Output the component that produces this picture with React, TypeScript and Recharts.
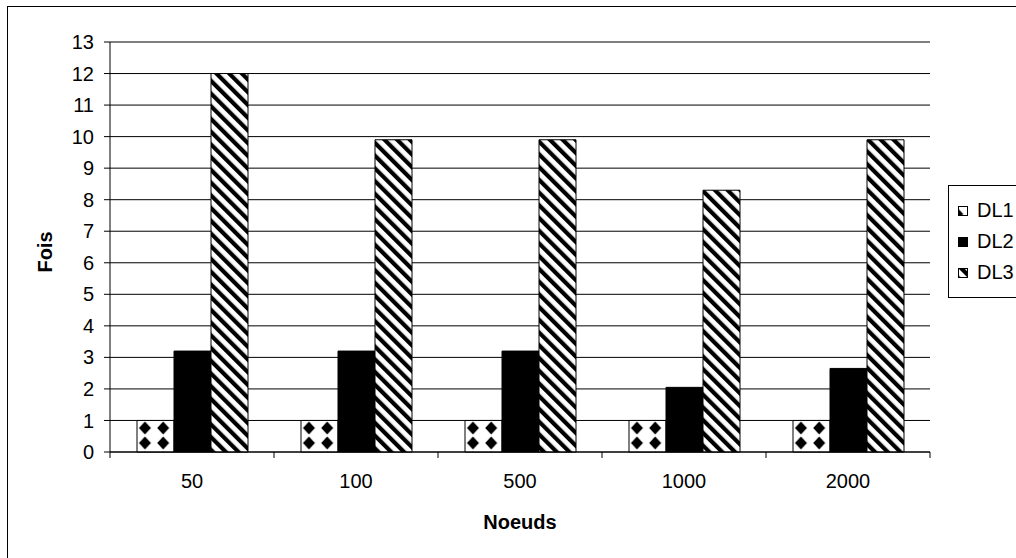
import React from "react";
import {
  BarChart,
  Bar,
  XAxis,
  YAxis,
  CartesianGrid,
  Legend,
  Label,
} from "recharts";

const categories = ["50", "100", "500", "1000", "2000"];
const dl1 = [1, 1, 1, 1, 1];
const dl2 = [3.2, 3.2, 3.2, 2.05, 2.65];
const dl3 = [12, 9.9, 9.9, 8.3, 9.9];
const seriesNames = ["DL1", "DL2", "DL3"];
const yTicks = [0, 1, 2, 3, 4, 5, 6, 7, 8, 9, 10, 11, 12, 13];

const data = categories.map((c, i) => ({
  name: c,
  DL1: dl1[i],
  DL2: dl2[i],
  DL3: dl3[i],
}));

const FONT = '"Liberation Sans", Arial, sans-serif';
const PLOT_LEFT = 110;
const PLOT_RIGHT = 930;
const BAND = (PLOT_RIGHT - PLOT_LEFT) / categories.length;
// diamond tile: 9 tiles per category so every bar gets the same pattern
const TILE_W = BAND / 9;

const fills: Record<string, string> = {
  DL1: "url(#diamonds)",
  DL2: "#000",
  DL3: "url(#stripes)",
};

// category label centred, tick marks on the category boundaries
const XTick = (props: any) => {
  const { x, y, payload, index } = props;
  return (
    <g>
      <line x1={x - BAND / 2} x2={x - BAND / 2} y1={y} y2={y + 6} stroke="#000" />
      {index === categories.length - 1 && (
        <line x1={x + BAND / 2} x2={x + BAND / 2} y1={y} y2={y + 6} stroke="#000" />
      )}
      <text
        x={x}
        y={y + 36}
        textAnchor="middle"
        fontSize={20}
        fontFamily={FONT}
        fill="#000"
      >
        {payload.value}
      </text>
    </g>
  );
};

const LegendBox = () => (
  <div
    style={{
      border: "1px solid #000",
      background: "#fff",
      padding: "9px 40px 9px 9px",
      fontFamily: FONT,
      fontSize: 20,
      color: "#000",
    }}
  >
    {seriesNames.map((name) => (
      <div
        key={name}
        style={{ display: "flex", alignItems: "center", height: 31 }}
      >
        <svg width={10} height={10} style={{ marginRight: 9 }}>
          <rect x={0.5} y={0.5} width={9} height={9} fill={fills[name]} stroke="#000" />
        </svg>
        <span>{name}</span>
      </div>
    ))}
  </div>
);

export default function App() {
  return (
    <div
      style={{
        position: "absolute",
        left: 0,
        top: 0,
        width: 1016,
        height: 558,
        overflow: "hidden",
        background: "#fff",
      }}
    >
      <div
        style={{
          position: "absolute",
          left: 7,
          top: 6,
          width: 1100,
          height: 600,
          border: "1px solid #000",
        }}
      />
      <BarChart
        width={1016}
        height={558}
        data={data}
        margin={{ top: 42, right: 1016 - PLOT_RIGHT, left: 50, bottom: 0 }}
        barCategoryGap={27}
        barGap={0}
      >
        <defs>
          <pattern
            id="diamonds"
            patternUnits="userSpaceOnUse"
            x={8.3}
            y={0}
            width={TILE_W}
            height={15}
          >
            <rect width={TILE_W} height={15} fill="#fff" />
            <polygon
              points={`${TILE_W / 2},1.5 ${TILE_W / 2 + 6},8 ${TILE_W / 2},14.5 ${TILE_W / 2 - 6},8`}
              fill="#000"
            />
          </pattern>
          <pattern
            id="stripes"
            patternUnits="userSpaceOnUse"
            width={9}
            height={9}
            patternTransform="rotate(-45)"
          >
            <rect width={9} height={9} fill="#fff" />
            <rect width={4.2} height={9} fill="#000" />
          </pattern>
        </defs>
        <CartesianGrid vertical={false} stroke="#000" />
        <XAxis
          dataKey="name"
          height={106}
          stroke="#000"
          tickLine={false}
          tickSize={0}
          tickMargin={0}
          tick={<XTick />}
          interval={0}
        >
          <Label
            content={() => (
              <text
                x={520}
                y={529}
                textAnchor="middle"
                fontSize={20}
                fontWeight="bold"
                fontFamily={FONT}
                fill="#000"
              >
                Noeuds
              </text>
            )}
          />
        </XAxis>
        <YAxis
          width={60}
          domain={[0, 13]}
          ticks={yTicks}
          interval={0}
          stroke="#000"
          tickSize={6}
          tickMargin={10}
          tick={{ fill: "#000", fontSize: 20, fontFamily: FONT }}
        >
          <Label
            content={() => (
              <text
                x={45}
                y={252}
                transform="rotate(-90 45 252)"
                textAnchor="middle"
                dominantBaseline="central"
                fontSize={20}
                fontWeight="bold"
                fontFamily={FONT}
                fill="#000"
              >
                Fois
              </text>
            )}
          />
        </YAxis>
        <Legend
          layout="horizontal"
          verticalAlign="middle"
          align="center"
          content={<LegendBox />}
          wrapperStyle={{ left: 948, top: 185, width: "auto" }}
        />
        {seriesNames.map((name) => (
          <Bar
            key={name}
            dataKey={name}
            fill={fills[name]}
            stroke="#000"
            strokeWidth={1}
            isAnimationActive={false}
          />
        ))}
      </BarChart>
    </div>
  );
}
